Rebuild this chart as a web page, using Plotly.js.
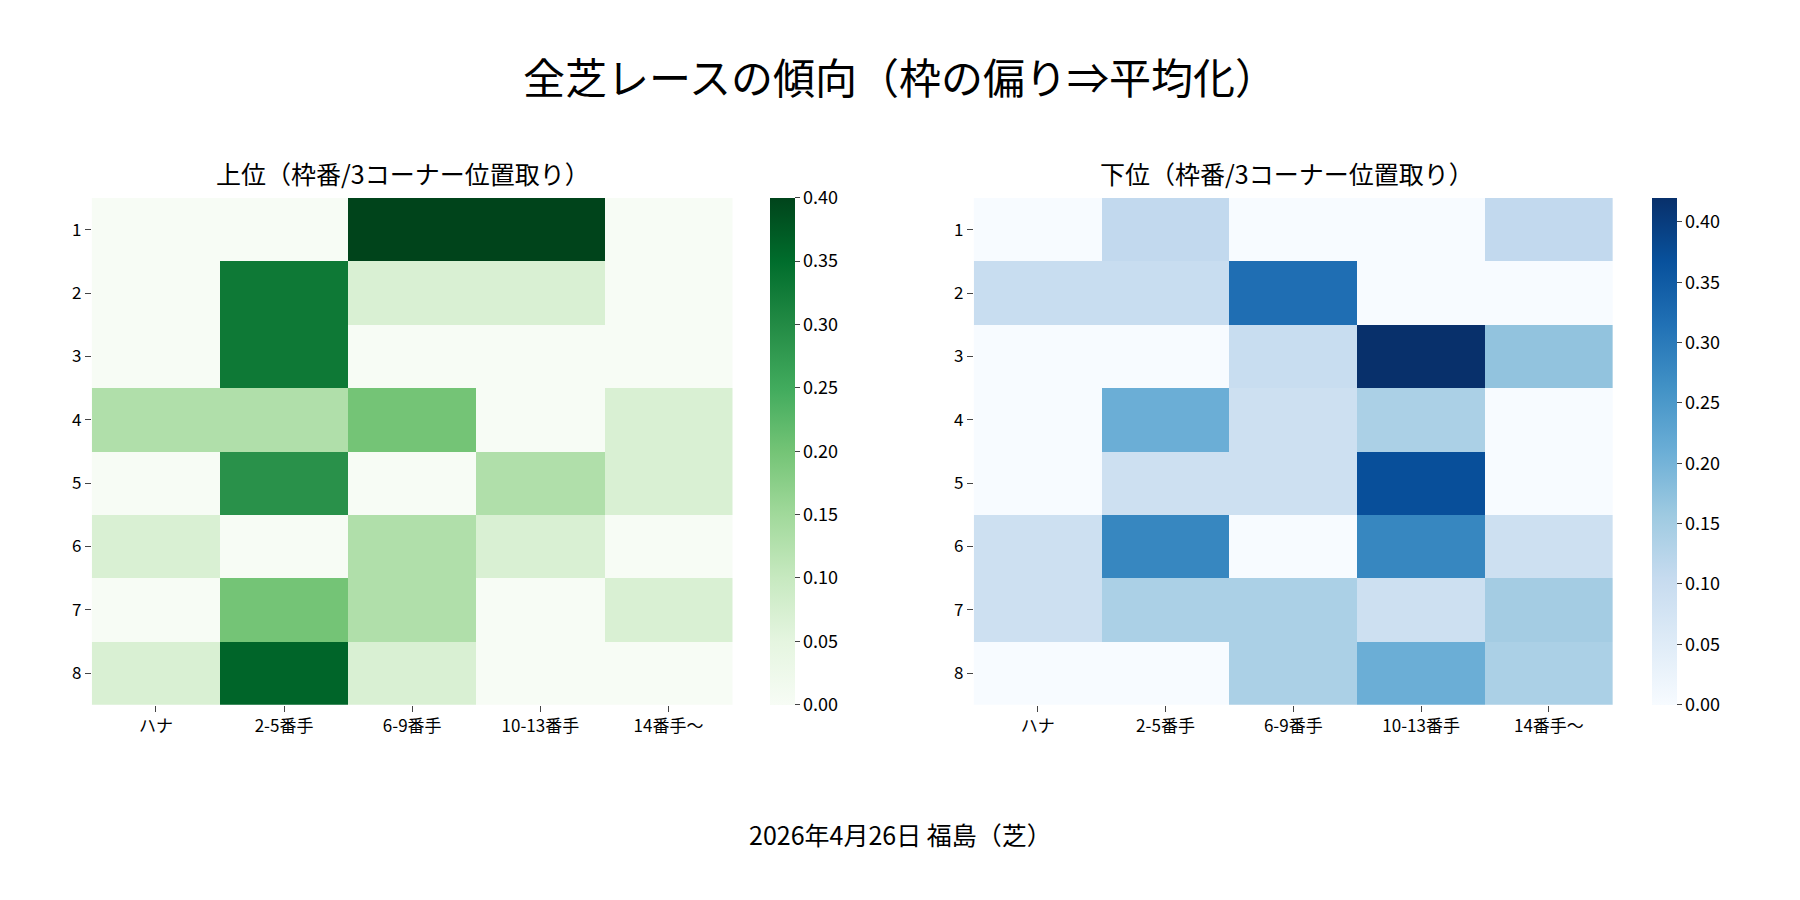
<!DOCTYPE html>
<html>
<head>
<meta charset="utf-8">
<script src="https://cdn.plot.ly/plotly-3.0.1.min.js"></script>
<style>body{margin:0}</style>
</head>
<body>
<div id="chart" style="width:1800px;height:900px"></div>
<script>
var corners = ['ハナ', '2-5番手', '6-9番手', '10-13番手', '14番手〜'];
var gates = ['1', '2', '3', '4', '5', '6', '7', '8'];

/* 上位 */
var upper = [
  [0, 0, 0.40, 0.40, 0],
  [0, 0.33, 0.07, 0.07, 0],
  [0, 0.33, 0, 0, 0],
  [0.13, 0.13, 0.20, 0, 0.07],
  [0, 0.29, 0, 0.13, 0.07],
  [0.07, 0, 0.13, 0.07, 0],
  [0, 0.20, 0.13, 0, 0.07],
  [0.07, 0.36, 0.07, 0, 0]
];

/* 下位 */
var lower = [
  [0, 0.11, 0, 0, 0.11],
  [0.10, 0.10, 0.32, 0, 0],
  [0, 0, 0.10, 0.42, 0.17],
  [0, 0.21, 0.09, 0.14, 0],
  [0, 0.09, 0.09, 0.37, 0],
  [0.09, 0.28, 0, 0.28, 0.09],
  [0.09, 0.14, 0.14, 0.09, 0.15],
  [0, 0, 0.14, 0.21, 0.14]
];

var greens = [[0,'#f7fcf5'],[0.125,'#e5f5e0'],[0.25,'#c7e9c0'],[0.375,'#a1d99b'],[0.5,'#74c476'],[0.625,'#41ab5d'],[0.75,'#238b45'],[0.875,'#006d2c'],[1,'#00441b']];
var blues = [[0,'#f7fbff'],[0.125,'#deebf7'],[0.25,'#c6dbef'],[0.375,'#9ecae1'],[0.5,'#6baed6'],[0.625,'#4292c6'],[0.75,'#2171b5'],[0.875,'#08519c'],[1,'#08306b']];

function cb(x) {
  return {x: x, xanchor: 'left', xpad: 0, ypad: 0, y: 0.217, yanchor: 'bottom', len: 0.563, lenmode: 'fraction',
    thickness: 25, outlinewidth: 0, ticks: 'outside', ticklen: 5, dtick: 0.05, tickformat: '.2f',
    tickfont: {size: 18}};
}

var data = [
  {type: 'heatmap', z: upper, x: corners, y: gates, colorscale: greens, zmin: 0, zmax: 0.40,
   xaxis: 'x', yaxis: 'y', colorbar: cb(0.428)},
  {type: 'heatmap', z: lower, x: corners, y: gates, colorscale: blues, zmin: 0, zmax: 0.42,
   xaxis: 'x2', yaxis: 'y2', colorbar: cb(0.918)}
];

function ax(dom, anchor) {
  return {domain: dom, anchor: anchor, showgrid: false, zeroline: false, showline: false,
    ticks: 'outside', ticklen: 6, tickfont: {size: 17}};
}

var yax = ax([0.217, 0.78], 'x'); yax.autorange = 'reversed';
var yax2 = ax([0.217, 0.78], 'x2'); yax2.autorange = 'reversed';

function note(text, x, ypx, size) {
  return {text: text, x: x, y: 1 - ypx / 900, xref: 'paper', yref: 'paper', xanchor: 'center',
    yanchor: 'middle', showarrow: false, font: {size: size}};
}

var layout = {
  font: {family: 'Noto Sans CJK JP, sans-serif', color: '#000'},
  margin: {l: 0, r: 0, t: 0, b: 0},
  paper_bgcolor: '#fff', plot_bgcolor: '#fff',
  xaxis: ax([0.051, 0.407], 'y'),
  yaxis: yax,
  xaxis2: ax([0.541, 0.896], 'y2'),
  yaxis2: yax2,
  annotations: [
    note('全芝レースの傾向（枠の偏り⇒平均化）', 0.5, 75, 42),
    note('上位（枠番/3コーナー位置取り）', 0.224, 173, 25),
    note('下位（枠番/3コーナー位置取り）', 0.715, 173, 25),
    note('2026年4月26日 福島（芝）', 0.5, 834, 25)
  ]
};

Plotly.newPlot('chart', data, layout, {displayModeBar: false});
</script>
</body>
</html>
